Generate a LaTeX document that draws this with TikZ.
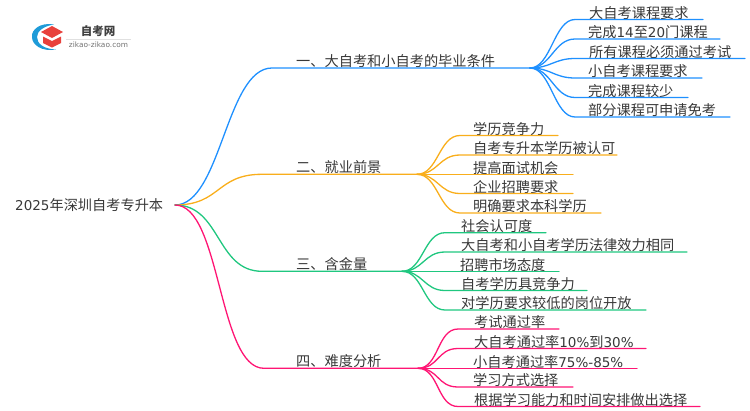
\documentclass[tikz,border=0pt]{standalone}
\usepackage{fontspec}
\setmainfont{Noto Sans CJK SC}
\newfontfamily\latinf{DejaVu Sans}
\newcommand{\nd}[1]{{\latinf\fontsize{13.5}{15}\selectfont #1}}
\definecolor{cblue}{HTML}{1E90FF}
\definecolor{corange}{HTML}{F9AE1B}
\definecolor{cgreen}{HTML}{1FC77F}
\definecolor{cpink}{HTML}{FF1574}
\definecolor{logored}{HTML}{E8413C}
\definecolor{logoblue}{HTML}{1E9BD8}
\tikzset{
  txt/.style={inner sep=0pt,anchor=west,text=black!78,font=\fontsize{14.2}{15}\selectfont},
  conn/.style={line width=1.3pt,line cap=round},
}
% \leaf{name}{colour}{hub}{start x}{end x}{y}{text x}{text}
\newcommand{\leaf}[8]{%
  \coordinate (#1s) at (#4,#6);
  \coordinate (#1e) at (#5,#6);
  \node[txt] (#1) at (#7,#6-6.7) {#8};
  \draw[conn,#2] (#3) .. controls +(21,0) and +(-21,0) .. (#1s) -- (#1e);
}
% \branch{name}{colour}{start flat x}{hub x}{y}{text x}{text}
\newcommand{\branch}[7]{%
  \coordinate (#1s) at (#3,#5);
  \coordinate (#1) at (#4,#5);
  \node[txt] (#1t) at (#6,#5-7) {#7};
  \draw[conn,#2] (root) .. controls +(46,0) and +(-46,0) .. (#1s) -- (#1);
}
\begin{document}
\begin{tikzpicture}[x=1pt,y=-1pt]
\useasboundingbox (0,0) rectangle (750,410);
\coordinate (root) at (175,205);
\node[txt] (roott) at (15,205) {\nd{2025}年深圳自考专升本};
\branch{A}{cblue}{272}{530}{68}{296}{一、大自考和小自考的毕业条件}
\branch{B}{corange}{262}{417}{174.3}{296}{二、就业前景}
\branch{C}{cgreen}{262}{402}{271.3}{296}{三、含金量}
\branch{D}{cpink}{264}{418}{368.3}{296}{四、难度分析}
\leaf{a1}{cblue}{A}{575}{703}{19.5}{589}{大自考课程要求}
\leaf{a2}{cblue}{A}{575}{720}{39}{588}{完成\nd{14}至\nd{20}门课程}
\leaf{a3}{cblue}{A}{575}{745}{58.5}{589}{所有课程必须通过考试}
\leaf{a4}{cblue}{A}{575}{702}{78}{588}{小自考课程要求}
\leaf{a5}{cblue}{A}{575}{688}{97.5}{588}{完成课程较少}
\leaf{a6}{cblue}{A}{575}{730}{117}{588}{部分课程可申请免考}
\leaf{b1}{corange}{B}{460}{558}{135.5}{473}{学历竞争力}
\leaf{b2}{corange}{B}{460}{617}{155}{473}{自考专升本学历被认可}
\leaf{b3}{corange}{B}{460}{573}{174.3}{473}{提高面试机会}
\leaf{b4}{corange}{B}{460}{573}{193.5}{473}{企业招聘要求}
\leaf{b5}{corange}{B}{460}{601}{213}{473}{明确要求本科学历}
\leaf{c1}{cgreen}{C}{445}{546}{232.7}{461}{社会认可度}
\leaf{c2}{cgreen}{C}{445}{687}{252}{461}{大自考和小自考学历法律效力相同}
\leaf{c3}{cgreen}{C}{445}{559}{271.3}{460}{招聘市场态度}
\leaf{c4}{cgreen}{C}{445}{587}{290.5}{461}{自考学历具竞争力}
\leaf{c5}{cgreen}{C}{445}{646}{310}{461}{对学历要求较低的岗位开放}
\leaf{d1}{cpink}{D}{458}{559}{329}{474}{考试通过率}
\leaf{d2}{cpink}{D}{458}{646}{348.5}{474}{大自考通过率\nd{10\%}到\nd{30\%}}
\leaf{d3}{cpink}{D}{458}{637}{368.3}{473}{小自考通过率\nd{75\%-85\%}}
\leaf{d4}{cpink}{D}{458}{573}{387}{473}{学习方式选择}
\leaf{d5}{cpink}{D}{458}{700}{406.5}{474}{根据学习能力和时间安排做出选择}
% logo
\fill[logoblue] (54,24.5) .. controls (40,22) and (31,30) .. (32,37) .. controls (32,45) and (42,52) .. (56,49.5) .. controls (44,49) and (37,44) .. (37,37) .. controls (37,31) and (44,26) .. (54,24.5) -- cycle;
\fill[logored] (52,26) -- (63,32) -- (52,38) -- (41,32) -- cycle;
\fill[logored] (43,36.5) -- (52,41) -- (61,36.5) -- (61,43) -- (52,47.5) -- (43,43) -- cycle;
\node[inner sep=0pt,font=\fontsize{11.5}{13}\selectfont\bfseries,text=black!75] (logot) at (98,31) {自考网};
\draw[black!12,line width=.5pt] (66,39) -- (131,39);
\node[inner sep=0pt,font=\fontsize{7.4}{9}\selectfont,text=black!55] (logos) at (98.5,45) {\latinf zikao-zikao.com};
\end{tikzpicture}
\end{document}
